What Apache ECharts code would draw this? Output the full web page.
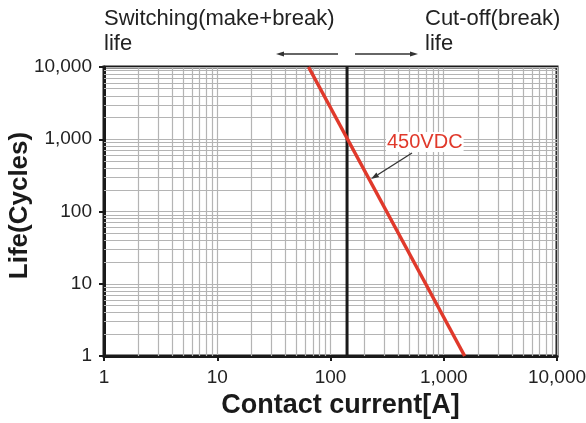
<!DOCTYPE html>
<html>
<head>
<meta charset="utf-8">
<script src="https://cdn.jsdelivr.net/npm/echarts@6/dist/echarts.min.js"></script>
<style>html,body{margin:0;padding:0;background:#fff;}#c{width:586px;height:423px;}</style>
</head>
<body>
<div id="c"></div>
<script>
// ---- data ----
const decades = [1, 10, 100, 1000];
const minorMultipliers = [2, 3, 4, 5, 6, 7, 8, 9];
const curve450VDC = [[64, 10000], [1530, 1]];      // [current A, cycles]
const boundaryCurrent = 140;                      // switching / cut-off boundary [A]
const boundaryLine = [[boundaryCurrent, 1], [boundaryCurrent, 10000]];
const axisMin = 1, axisMax = 10000;

const minorValues = [];
decades.forEach(d => minorMultipliers.forEach(m => minorValues.push(d * m)));

const gridGray = '#b4b4b4';
const fontFam = '"Liberation Sans", Arial, Helvetica, sans-serif';
const fmt = v => Math.round(v).toLocaleString('en-US');

const chart = echarts.init(document.getElementById('c'), null, {renderer: 'canvas'});

function arrow(x1, y1, x2, y2) {
  const ang = Math.atan2(y2 - y1, x2 - x1);
  const L = 8, W = 2.6;
  const bx = x2 - L * Math.cos(ang), by = y2 - L * Math.sin(ang);
  const px = -Math.sin(ang) * W, py = Math.cos(ang) * W;
  return [
    {type: 'line', shape: {x1: x1, y1: y1, x2: bx, y2: by}, style: {stroke: '#333', lineWidth: 1.3}, z: 100},
    {type: 'polygon', shape: {points: [[x2, y2], [bx + px, by + py], [bx - px, by - py]]}, style: {fill: '#333'}, z: 100}
  ];
}

const topText = {fill: '#222', font: '22px ' + fontFam, lineHeight: 25};

const option = {
  animation: false,
  backgroundColor: '#fff',
  grid: {left: 104, right: 29, top: 67, bottom: 67, show: true, borderColor: '#1a1a1a', borderWidth: 3, containLabel: false, outerBoundsMode: 'none'},
  xAxis: {
    type: 'log', logBase: 10, min: axisMin, max: axisMax,
    name: 'Contact current[A]', nameLocation: 'middle', nameGap: 36, nameMoveOverlap: false,
    nameTextStyle: {fontFamily: fontFam, fontSize: 27, fontWeight: 'bold', color: '#1a1a1a', padding: [0, 0, 0, 20], verticalAlign: 'top'},
    axisLine: {show: true, lineStyle: {color: '#1a1a1a', width: 3}},
    axisTick: {show: true, inside: false, length: 5, lineStyle: {color: '#1a1a1a', width: 2}},
    axisLabel: {formatter: fmt, fontFamily: fontFam, fontSize: 19, color: '#222', margin: 12},
    splitLine: {show: true, lineStyle: {color: gridGray, width: 1.2}},
    minorTick: {show: false}, minorSplitLine: {show: false}
  },
  yAxis: {
    type: 'log', logBase: 10, min: axisMin, max: axisMax,
    name: 'Life(Cycles)', nameLocation: 'middle', nameGap: 71, nameRotate: 90, nameMoveOverlap: false,
    nameTextStyle: {fontFamily: fontFam, fontSize: 26, fontWeight: 'bold', color: '#1a1a1a', padding: [0, 0, 0, 12]},
    axisLine: {show: true, lineStyle: {color: '#1a1a1a', width: 3}},
    axisTick: {show: true, inside: false, length: 5, lineStyle: {color: '#1a1a1a', width: 2}},
    axisLabel: {formatter: fmt, fontFamily: fontFam, fontSize: 19, color: '#222', margin: 12},
    splitLine: {show: true, lineStyle: {color: gridGray, width: 1.2}},
    minorTick: {show: false}, minorSplitLine: {show: false}
  },
  series: [
    {
      name: 'minorGrid', type: 'line', data: [], silent: true, z: 1,
      markLine: {
        silent: true, symbol: ['none', 'none'], animation: false,
        label: {show: false},
        lineStyle: {color: gridGray, width: 1.2, type: 'solid'},
        emphasis: {disabled: true},
        data: minorValues.map(v => ({xAxis: v})).concat(minorValues.map(v => ({yAxis: v})))
      }
    },
    {
      name: 'boundary', type: 'line', data: boundaryLine, symbol: 'none', silent: true, z: 5,
      lineStyle: {color: '#1a1a1a', width: 3}
    },
    {
      name: '450VDC', type: 'line', data: curve450VDC, symbol: 'none', silent: true, z: 6,
      lineStyle: {color: '#e0392b', width: 3.5}
    }
  ],
  graphic: [
    {type: 'text', left: 104, top: 6, style: Object.assign({text: 'Switching(make+break)\nlife'}, topText), z: 100},
    {type: 'text', left: 425, top: 6, style: Object.assign({text: 'Cut-off(break)\nlife'}, topText), z: 100},
    {type: 'text', left: 386, top: 132, style: {text: '450VDC', fill: '#e0392b', font: '20px ' + fontFam, backgroundColor: '#fff', padding: [0, 1, 0, 1]}, z: 100}
  ].concat(arrow(338, 54, 276, 54)).concat(arrow(355, 54, 418, 54)).concat(arrow(412, 153, 371, 179))
};
chart.setOption(option);
</script>
</body>
</html>
